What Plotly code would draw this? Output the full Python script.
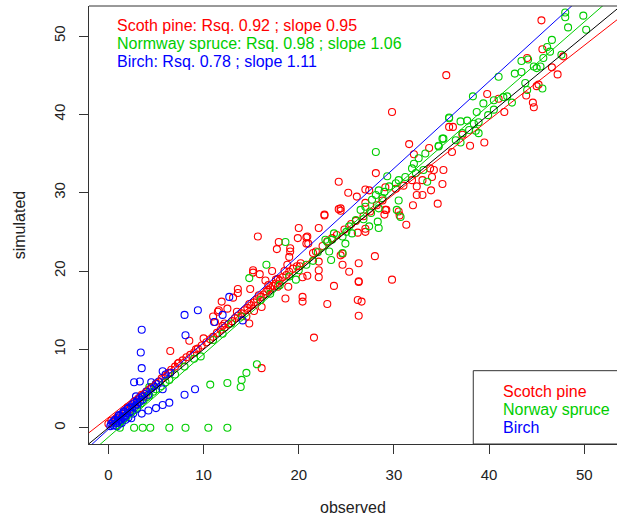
import plotly.graph_objects as go

# ---------------- data ----------------
pine_obs = [0.0,0.3,0.5,0.8,1.0,1.2,1.5,1.8,2.0,2.3,2.5,2.8,3.0,3.3,3.5,3.8,4.0,4.3,4.6,5.0,5.3,5.6,6.0,6.3,6.6,7.0,7.3,
            6.5,8.5,9.2,7.4,7.8,8.2,8.6,9.0,9.4,9.8,10.0,10.3,10.7,11.0,11.2,11.5,11.9,12.5,11.6,12.2,
            11.0,11.4,11.8,12.2,12.6,13.0,13.3,13.6,14.0,14.3,14.6,15.0,15.3,15.6,16.0,16.3,16.6,17.0,17.3,17.6,18.0,18.3,18.7,19.0,19.4,19.8,20.2,
            12.0,13.5,14.8,15.8,16.8,17.8,18.5,14.5,15.3,16.1,
            13.1,13.6,13.6,14.9,14.8,15.2,15.2,15.9,16.5,17.6,15.7,17.9,17.7,19.1,19.1,19.9,20.0,20.9,21.0,22.1,22.7,24.2,21.8,22.1,22.1,22.1,
            20.9,20.4,20.1,18.8,17.2,19.0,16.8,17.8,18.6,20.4,20.4,23.0,23.7,21.6,16.1,18.9,26.3,29.8,26.2,26.6,26.3,
            20.8,20.8,24.6,24.4,25.3,26.3,26.3,28.0,24.6,24.2,25.2,26.1,27.0,27.4,27.0,29.1,24.4,24.4,22.7,29.2,29.0,30.5,30.6,31.3,27.0,27.0,26.2,29.1,
            21.5,22.5,23.0,23.5,24.0,24.8,25.5,26.0,26.8,27.5,28.2,28.8,
            29.8,31.6,32.1,28.1,32.4,31.9,33.0,32.4,33.9,35.1,34.6,32.0,34.0,34.2,35.2,36.1,36.2,33.7,35.5,35.8,37.2,38.0,39.5,33.8,33.0,30.2,31.0,
            39.8,41.0,41.6,43.9,44.6,44.7,45.0,45.2,44.0,45.6,46.6,47.2,45.5,47.8]
pine_sim = [0.5,0.9,0.7,1.2,1.5,1.0,1.8,2.2,2.6,2.4,3.0,3.4,3.2,3.8,4.2,4.0,4.6,4.9,5.2,5.6,5.8,6.3,6.6,7.0,7.4,7.8,8.2,
            9.8,11.1,10.0,8.3,8.6,9.0,9.3,9.6,10.1,10.5,11.4,10.9,11.3,14.2,13.5,14.8,16.1,15.2,15.0,13.3,
            11.6,12.1,12.5,12.8,13.2,13.6,14.0,14.3,14.6,15.0,15.3,15.6,16.0,16.4,16.7,17.0,17.4,17.8,18.1,18.4,18.8,19.2,19.5,19.9,20.3,20.6,21.0,
            13.0,14.8,15.8,16.9,18.2,19.0,20.0,14.2,14.9,15.4,
            16.6,17.7,17.2,17.7,13.3,20.1,19.8,19.6,18.8,18.9,24.4,23.7,22.8,22.9,22.5,24.2,25.5,24.4,23.5,25.5,27.1,27.9,22.5,21.2,20.1,19.2,
            19.4,19.2,20.6,20.8,20.0,21.8,17.6,18.0,16.5,16.7,16.1,15.8,18.1,11.5,7.6,18.0,18.6,18.9,16.3,16.1,14.3,
            24.3,23.5,20.8,22.0,19.9,21.0,18.7,21.9,22.2,31.4,30.0,29.5,30.4,30.3,28.7,30.7,28.0,27.7,27.2,27.8,27.2,27.6,27.1,25.9,25.0,25.4,24.9,27.8,
            22.3,23.2,23.8,24.2,24.6,25.3,26.0,26.4,27.0,27.6,28.4,29.0,
            40.3,36.2,34.9,32.5,30.8,31.6,29.7,29.7,30.3,31.1,28.6,28.4,32.0,32.9,32.9,35.2,38.4,35.7,45.0,38.4,37.4,36.0,36.4,33.1,31.6,30.5,30.9,
            42.6,42.0,40.3,42.4,41.5,40.9,43.6,43.8,47.2,48.3,46.0,45.1,52.0,47.4]

spruce_obs = [1.2,2.7,3.6,4.4,6.4,8.1,10.5,12.5,
              10.7,12.5,13.9,14.0,14.5,15.6,9.7,
              0.8,1.0,1.3,1.6,1.9,2.2,2.5,2.8,3.1,3.4,3.7,4.0,4.3,4.3,4.7,5.0,5.5,6.0,6.4,7.0,8.0,9.0,11.0,12.9,12.0,14.0,
              14.8,16.6,18.6,19.7,16.0,17.0,18.0,19.0,20.0,20.8,21.5,22.0,
              23.7,23.0,23.2,23.4,22.8,23.5,24.9,24.6,25.6,25.3,24.6,27.4,28.3,28.4,27.6,26.5,27.0,28.4,27.7,28.8,28.1,28.4,29.0,29.5,30.2,30.5,31.2,
              30.3,30.7,30.5,28.1,29.3,26.0,25.0,26.8,
              32.3,31.9,32.1,32.6,33.3,34.7,35.2,35.8,33.5,33.1,34.7,35.1,36.5,37.0,37.2,37.9,38.6,38.9,35.8,37.0,37.7,38.4,38.9,39.9,38.7,38.3,39.4,
              40.5,40.5,41.5,41.9,42.4,41.0,
              42.7,43.4,43.8,44.0,45.6,45.4,45.0,44.7,43.4,44.1,45.7,47.6,46.4,46.1,46.6,48.3,50.2,48.0,48.0,49.9]
spruce_sim = [0.0,0.0,0.0,0.0,0.0,0.0,0.0,0.0,
              5.5,5.7,5.2,6.1,7.0,8.1,9.1,
              0.3,0.6,0.9,1.2,1.6,1.9,2.2,2.6,2.9,3.1,3.5,3.9,4.1,5.2,4.6,4.9,5.3,5.8,6.1,6.8,7.8,8.8,11.2,13.3,12.0,14.2,
              19.1,20.8,23.7,18.9,16.3,17.1,18.2,19.3,20.1,20.8,21.3,22.4,
              24.8,23.7,22.5,21.4,24.0,24.0,23.5,24.4,24.8,25.7,22.3,25.7,26.3,25.5,27.4,27.8,28.2,28.0,29.1,29.3,29.7,30.3,30.1,30.8,31.2,31.6,32.0,
              27.8,26.9,29.0,35.2,32.1,26.5,25.0,26.6,
              32.5,33.1,33.7,34.4,35.0,35.9,36.9,39.6,31.4,32.9,36.0,36.9,36.7,36.4,37.6,38.0,37.9,37.6,39.5,39.1,39.2,38.8,39.0,39.9,40.3,42.3,41.4,
              40.6,41.8,42.2,42.3,41.5,44.8,
              45.2,45.4,44.0,43.1,43.3,46.1,45.9,46.1,46.8,47.0,47.2,47.6,48.0,48.6,49.5,51.1,50.8,52.4,53.0,52.6]

birch_obs = [0.2,0.3,0.5,0.5,0.7,0.8,0.9,1.0,1.0,1.1,1.2,1.2,1.3,1.4,1.5,1.5,1.6,1.7,1.8,1.8,2.0,2.0,2.1,2.2,2.3,2.4,2.5,2.5,2.6,
             2.7,2.8,2.9,3.0,3.0,3.0,3.2,3.3,3.5,3.5,3.6,3.8,4.0,4.2,4.2,4.5,4.8,5.0,5.0,5.3,5.7,6.4,
             3.5,3.4,3.5,2.7,3.3,5.7,5.7,8.0,9.4,8.1,9.1,8.0,11.1,12.0,12.7,14.1,4.5,6.0,6.5]
birch_sim = [0.2,0.5,0.8,0.3,1.0,0.6,0.2,1.2,0.9,1.6,1.5,0.5,1.0,0.6,1.8,1.3,2.1,2.0,1.5,1.0,2.4,1.9,1.3,2.6,2.0,1.2,3.0,2.6,1.8,
             3.3,2.8,4.0,3.5,3.0,2.4,3.8,3.3,4.0,1.8,3.6,4.3,4.6,4.2,2.2,5.0,5.3,5.6,2.5,5.9,2.9,3.2,
             12.5,9.6,7.6,5.8,5.9,7.2,4.9,14.4,15.0,11.8,4.9,4.2,13.5,14.4,16.7,13.7,5.8,6.8,7.0]

species = ["Scotch pine", "Norway spruce", "Birch"]
fit_labels = ["Scoth pine: Rsq. 0.92 ; slope 0.95",
              "Normway spruce: Rsq. 0.98 ; slope 1.06",
              "Birch: Rsq. 0.78 ; slope 1.11"]
fit_slope = [0.95, 1.06, 1.11]
fit_intercept = [1.3, -1.2, -0.2]
colors = ["#FF0000", "#00CD00", "#0000FF"]

x_ticks = [0, 10, 20, 30, 40, 50]
y_ticks = [0, 10, 20, 30, 40, 50]
x_range = [-2.04, 53.44]
y_range = [-2.08, 53.83]

# ---------------- figure ----------------
fig = go.Figure()
obs_all = [pine_obs, spruce_obs, birch_obs]
sim_all = [pine_sim, spruce_sim, birch_sim]
for name, xo, ys, col in zip(species, obs_all, sim_all, colors):
    fig.add_trace(go.Scatter(x=xo, y=ys, mode="markers", name=name, showlegend=False,
                             marker=dict(symbol="circle-open", size=7, color=col, line=dict(width=1.1, color=col))))

for name, s, b, col in zip(species, fit_slope, fit_intercept, colors):
    xs = [x_range[0], x_range[1]]
    fig.add_trace(go.Scatter(x=xs, y=[s * v + b for v in xs], mode="lines", showlegend=False,
                             line=dict(color=col, width=1), hoverinfo="skip"))
fig.add_trace(go.Scatter(x=x_range, y=x_range, mode="lines", showlegend=False,
                         line=dict(color="black", width=1), hoverinfo="skip"))

axis_col = "#333333"
font_family = "Liberation Sans, Arial, sans-serif"
txt_size = 16

fig.update_layout(
    width=617, height=520,
    margin=dict(l=89, r=0, t=6, b=76),
    paper_bgcolor="white", plot_bgcolor="white",
    font=dict(family=font_family, size=15, color="#222222"),
    xaxis=dict(range=x_range, tickvals=x_ticks, ticks="outside", ticklen=9, tickwidth=1, tickcolor=axis_col,
               showline=True, linecolor=axis_col, linewidth=1, showgrid=False, zeroline=False,
               tickfont=dict(size=15, color="#222222"), ticklabelstandoff=8),
    yaxis=dict(range=y_range, tickvals=y_ticks, ticks="outside", ticklen=9, tickwidth=1, tickcolor=axis_col,
               showline=True, linecolor=axis_col, linewidth=1, showgrid=False, zeroline=False,
               tickangle=-90, tickfont=dict(size=15, color="#222222"), ticklabelstandoff=8),
)

# top border of the box
fig.add_shape(type="line", xref="paper", yref="paper", x0=0, x1=1.02, y0=1, y1=1,
              line=dict(color=axis_col, width=1))
# legend box (bottom-right, cut off by the image edge)
fig.add_shape(type="rect", xref="paper", yref="paper", x0=0.7278, x1=1.05, y0=0, y1=0.1674,
              line=dict(color=axis_col, width=1), fillcolor="white", layer="above")

ann_y = [0.9566, 0.9148, 0.8728]
for txt, col, yy in zip(fit_labels, colors, ann_y):
    fig.add_annotation(text=txt, xref="paper", yref="paper", x=0.0500, y=yy, xanchor="left", yanchor="middle",
                       showarrow=False, font=dict(size=txt_size, color=col, family=font_family))

leg_y = [0.1194, 0.0792, 0.0372]
for txt, col, yy in zip(species, colors, leg_y):
    fig.add_annotation(text=txt, xref="paper", yref="paper", x=0.7795, y=yy, xanchor="left", yanchor="middle",
                       showarrow=False, font=dict(size=txt_size, color=col, family=font_family))

fig.add_annotation(text="observed", xref="paper", yref="paper", x=0.5, y=-0.146, xanchor="center", yanchor="middle",
                   showarrow=False, font=dict(size=txt_size, color="#222222", family=font_family))
fig.add_annotation(text="simulated", xref="paper", yref="paper", x=-0.132, y=0.5, xanchor="center", yanchor="middle",
                   textangle=-90, showarrow=False, font=dict(size=txt_size, color="#222222", family=font_family))

fig.write_html("out.html", config={"displayModeBar": False},
               post_script="document.body.style.margin='0';document.body.style.overflow='hidden';")
